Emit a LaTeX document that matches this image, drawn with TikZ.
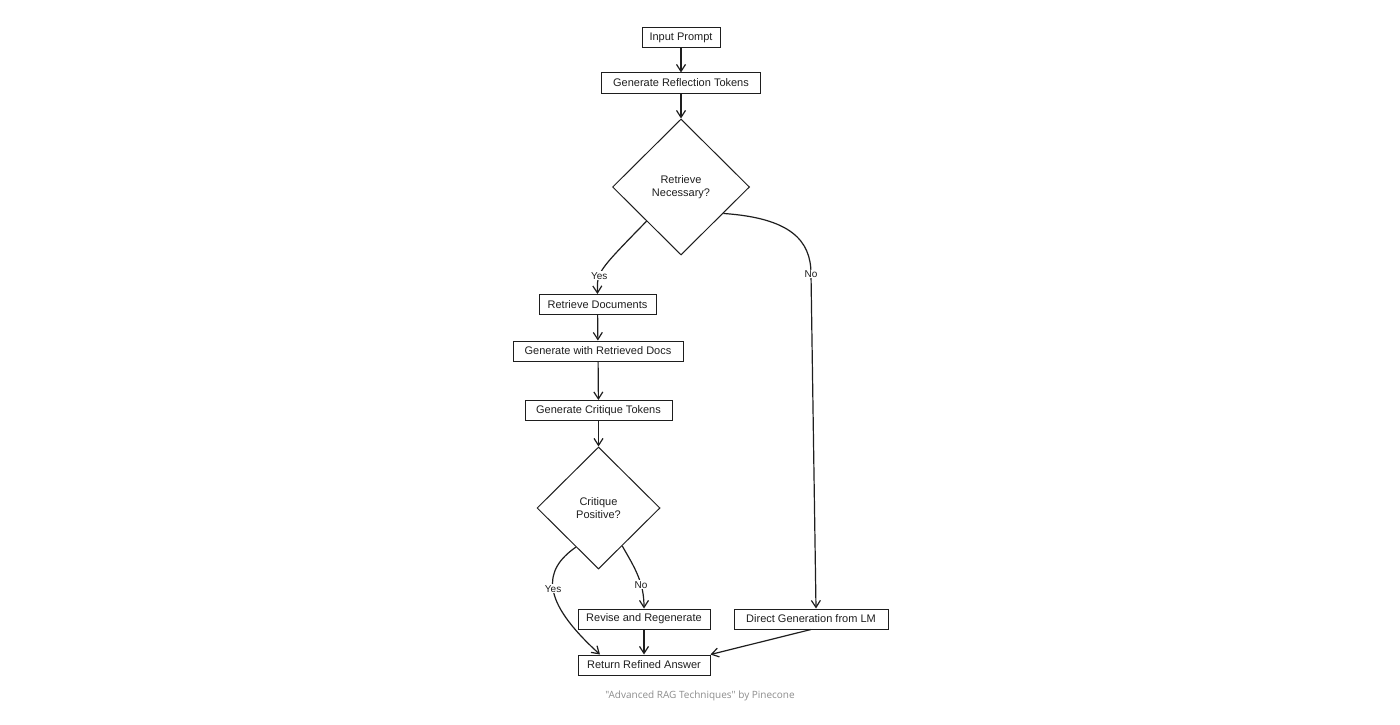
\documentclass[tikz,border=0pt]{standalone}
\usepackage{fontspec}
\setmainfont{Liberation Sans}
\newfontfamily\capfont{Open Sans}
\usetikzlibrary{shapes,arrows.meta}
\definecolor{ink}{HTML}{1E1E1E}

\begin{document}
\begin{tikzpicture}
  [x=1pt, y=-1pt, line width=1.2pt, draw=ink,
   every node/.style={font=\fontsize{11}{13}\selectfont, text=ink},
   box/.style={draw=ink, rectangle, line width=1pt, minimum height=20pt, inner sep=2pt},
   decision/.style={draw=ink, diamond, line width=1pt, align=center, inner sep=0pt},
   lbl/.style={fill=white, inner sep=1pt, font=\fontsize{10}{12}\selectfont},
   >={Straight Barb[length=7pt,width=9pt]}]
  \useasboundingbox (0,0) rectangle (1400,725);

  \node[box, minimum width=78pt] (prompt) at (681,37.5) {Input Prompt};
  \node[box, minimum width=159pt] (reflect) at (681,83) {Generate Reflection Tokens};
  \node[decision, minimum width=137pt, minimum height=136pt] (needed) at (681,187) {Retrieve\\Necessary?};
  \node[box, minimum width=117pt] (docs) at (597.5,304.5) {Retrieve Documents};
  \node[box, minimum width=170pt] (gen) at (598,351) {Generate with Retrieved Docs};
  \node[box, minimum width=147pt] (critique) at (598.5,410.5) {Generate Critique Tokens};
  \node[decision, minimum width=123pt, minimum height=122pt] (positive) at (598.5,508) {Critique\\Positive?};
  \node[box, minimum width=132pt] (revise) at (644,619) {Revise and Regenerate};
  \node[box, minimum width=132pt] (answer) at (644,665) {Return Refined Answer};
  \node[box, minimum width=154pt] (direct) at (811,619) {Direct Generation from LM};
  \node[text=black!45, font=\capfont\fontsize{10}{12}\selectfont] (credit) at (700,696) {"Advanced RAG Techniques" by Pinecone};

  % main line
  \draw[->] (prompt) -- (reflect);
  \draw[->] (reflect) -- (needed);
  \draw[->] (needed.south west) .. controls (597,272) .. node[lbl, pos=0.65] {Yes} (docs.north);
  \draw[->] (needed.-32) .. controls (790,218) and (811,240) .. (811,274) node[lbl] {No}
    -- ([xshift=5pt]direct.north);
  \draw[->] (docs) -- (gen);
  \draw[->] (gen) -- (critique);
  \draw[->] (critique) -- (positive);

  % critique branches
  \draw[->] (positive.-120) .. controls (543,570) and (540,600) .. node[lbl, pos=0.5] {Yes}
    ([xshift=-44pt]answer.north);
  \draw[->] (positive.-58) to[out=-60, in=90] node[lbl, pos=0.65] {No} (revise.north);
  \draw[->] (revise) -- (answer);
  \draw[->] (direct.south) -- (answer.north east);
\end{tikzpicture}
\end{document}
